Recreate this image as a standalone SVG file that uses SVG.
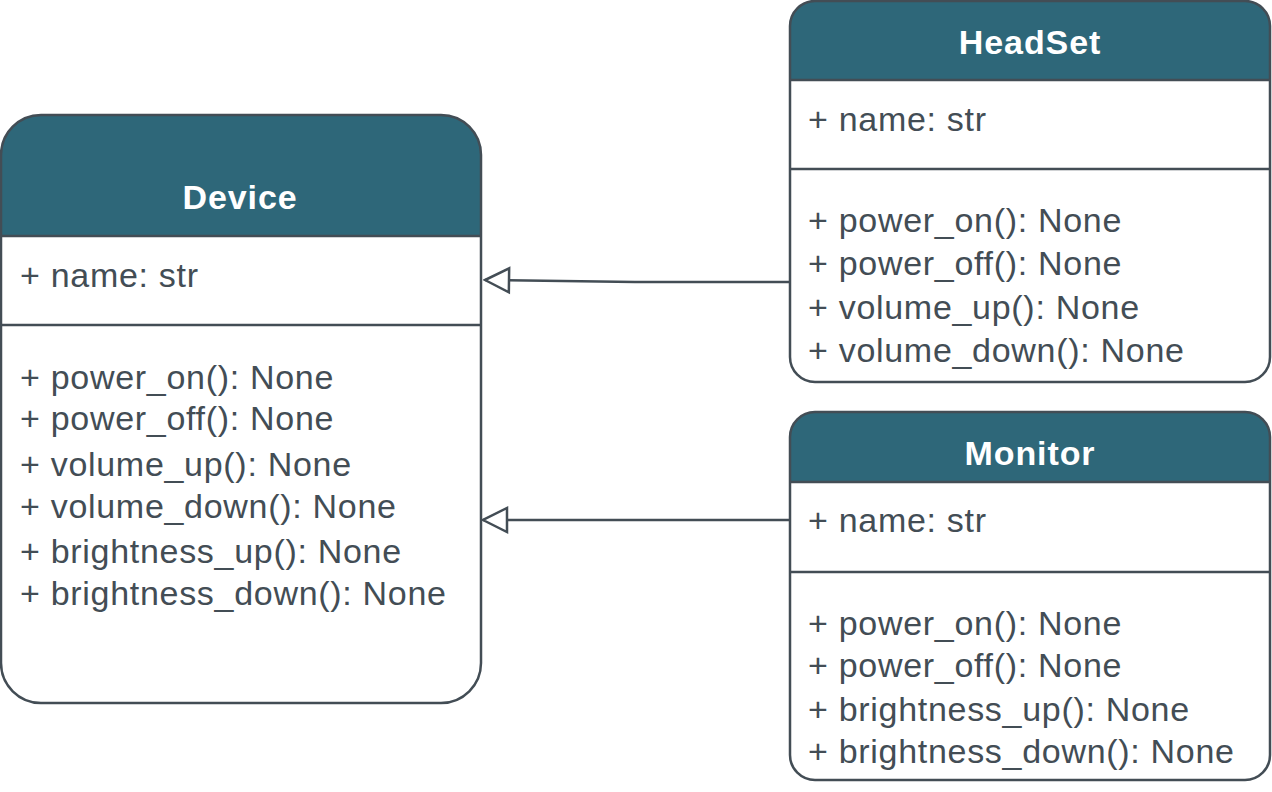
<svg xmlns="http://www.w3.org/2000/svg" width="1272" height="792" viewBox="0 0 1272 792">
<defs>
<style>
.box{fill:none;stroke:#434d55;stroke-width:2.5}
.hdr{fill:#2e6779}
.sep{stroke:#434d55;stroke-width:2.5}
.t{font-family:"Liberation Sans",Arial,sans-serif;font-size:34px;letter-spacing:0.7px;fill:#434d55}
.h{font-family:"Liberation Sans",Arial,sans-serif;font-size:34px;letter-spacing:0.9px;font-weight:bold;fill:#fff;text-anchor:middle}
.conn{fill:none;stroke:#434d55;stroke-width:2.5}
</style>
<marker id="tri" markerWidth="30" markerHeight="30" viewBox="0 0 30 30" refX="28" refY="15" orient="auto" markerUnits="userSpaceOnUse">
<path d="M28 15 L4 3 L4 27 Z" fill="#fff" stroke="#434d55" stroke-width="2.5"/>
</marker>
</defs>
<rect width="1272" height="792" fill="#fff"/>
<g id="Device">
<path class="hdr" d="M1 236 V155 A40 40 0 0 1 41 115 H441 A40 40 0 0 1 481 155 V236 Z"/>
<rect class="box" x="1" y="115" width="480" height="588" rx="40" ry="40"/>
<line class="sep" x1="1" y1="236" x2="481" y2="236"/>
<line class="sep" x1="1" y1="325" x2="481" y2="325"/>
<text class="h" x="240" y="209">Device</text>
<text class="t" x="20" y="287">+ name: str</text>
<text class="t" x="20" y="389">+ power_on(): None</text>
<text class="t" x="20" y="430">+ power_off(): None</text>
<text class="t" x="20" y="476">+ volume_up(): None</text>
<text class="t" x="20" y="518">+ volume_down(): None</text>
<text class="t" x="20" y="563">+ brightness_up(): None</text>
<text class="t" x="20" y="605">+ brightness_down(): None</text>
</g>
<g id="HeadSet">
<path class="hdr" d="M790 80 V26 A25 25 0 0 1 815 1 H1245 A25 25 0 0 1 1270 26 V80 Z"/>
<rect class="box" x="790" y="1" width="480" height="381" rx="25" ry="25"/>
<line class="sep" x1="790" y1="80" x2="1270" y2="80"/>
<line class="sep" x1="790" y1="169" x2="1270" y2="169"/>
<text class="h" x="1030" y="54">HeadSet</text>
<text class="t" x="808" y="131">+ name: str</text>
<text class="t" x="808" y="232">+ power_on(): None</text>
<text class="t" x="808" y="275">+ power_off(): None</text>
<text class="t" x="808" y="319">+ volume_up(): None</text>
<text class="t" x="808" y="362">+ volume_down(): None</text>
</g>
<g id="Monitor">
<path class="hdr" d="M790 482 V437 A25 25 0 0 1 815 412 H1245 A25 25 0 0 1 1270 437 V482 Z"/>
<rect class="box" x="790" y="412" width="480" height="368" rx="25" ry="25"/>
<line class="sep" x1="790" y1="482" x2="1270" y2="482"/>
<line class="sep" x1="790" y1="572" x2="1270" y2="572"/>
<text class="h" x="1030" y="465">Monitor</text>
<text class="t" x="808" y="532">+ name: str</text>
<text class="t" x="808" y="635">+ power_on(): None</text>
<text class="t" x="808" y="677">+ power_off(): None</text>
<text class="t" x="808" y="721">+ brightness_up(): None</text>
<text class="t" x="808" y="763">+ brightness_down(): None</text>
</g>
<g id="connectors">
<path class="conn" d="M790 282 L635 282 L485 280" marker-end="url(#tri)"/>
<path class="conn" d="M790 520 L483 520" marker-end="url(#tri)"/>
</g>
</svg>
